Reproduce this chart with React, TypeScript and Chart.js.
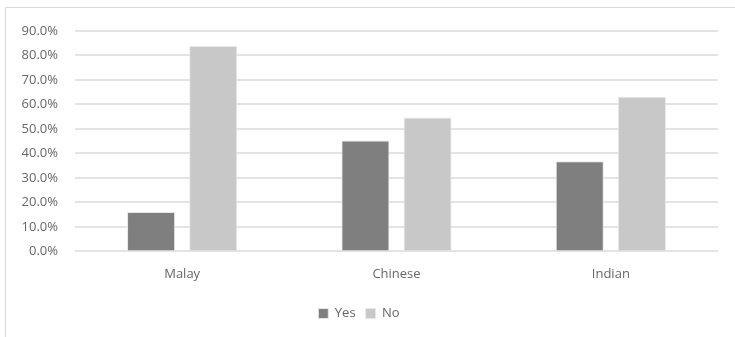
import React, { useEffect, useRef } from "react";
import { Chart, registerables } from "chart.js";

Chart.register(...registerables);

const categories = ["Malay", "Chinese", "Indian"];
const yesValues = [16.1, 45.3, 36.8];
const noValues = [83.9, 54.7, 63.2];
const seriesNames = ["Yes", "No"];

const FONT = "'Open Sans', 'Liberation Sans', sans-serif";

const framePlugin = {
  id: "frame",
  beforeDraw(chart: any) {
    const ctx = chart.ctx;
    ctx.save();
    ctx.fillStyle = "#ffffff";
    ctx.fillRect(0, 0, chart.width, chart.height);
    ctx.strokeStyle = "#d9d9d9";
    ctx.lineWidth = 1;
    ctx.beginPath();
    ctx.moveTo(5.5, chart.height);
    ctx.lineTo(5.5, 7.5);
    ctx.lineTo(chart.width, 7.5);
    ctx.stroke();
    ctx.restore();
  },
};

export default function App() {
  const ref = useRef<HTMLCanvasElement>(null);
  useEffect(() => {
    if (!ref.current) return;
    const chart = new Chart(ref.current, {
      type: "bar",
      data: {
        labels: categories,
        datasets: [
          {
            label: seriesNames[0],
            data: yesValues,
            backgroundColor: "#7f7f7f",
            borderColor: "#e8e8e8",
            borderWidth: 1,
          },
          {
            label: seriesNames[1],
            data: noValues,
            backgroundColor: "#c8c8c8",
            borderColor: "#e8e8e8",
            borderWidth: 1,
          },
        ],
      },
      options: {
        responsive: false,
        animation: false,
        categoryPercentage: 0.58,
        barPercentage: 0.774,
        layout: { padding: { top: 31, right: 17, left: 0, bottom: 7 } },
        plugins: {
          legend: {
            position: "bottom",
            labels: {
              boxWidth: 10,
              boxHeight: 10,
              color: "#666666",
              font: { family: FONT, size: 13 },
              padding: 10,
            },
          },
          tooltip: { enabled: false },
        },
        scales: {
          x: {
            grid: { display: false },
            border: { display: false },
            afterFit(scale: any) {
              scale.height += 8;
            },
            ticks: { color: "#666666", font: { family: FONT, size: 13 }, padding: 7 },
          },
          y: {
            min: 0,
            max: 90,
            afterFit(scale: any) {
              scale.width = 75;
            },
            grid: { color: "#e3e3e3", lineWidth: 2, drawTicks: false },
            border: { display: false },
            ticks: {
              stepSize: 10,
              padding: 17,
              color: "#666666",
              font: { family: FONT, size: 13 },
              callback: (v: any) => Number(v).toFixed(1) + "%",
            },
          },
        },
      },
      plugins: [framePlugin],
    });
    return () => chart.destroy();
  }, []);
  return (
    <div style={{ position: "fixed", left: 0, top: 0, width: 735, height: 337, background: "#fff" }}>
      <canvas ref={ref} width={735} height={337} style={{ display: "block" }} />
    </div>
  );
}
